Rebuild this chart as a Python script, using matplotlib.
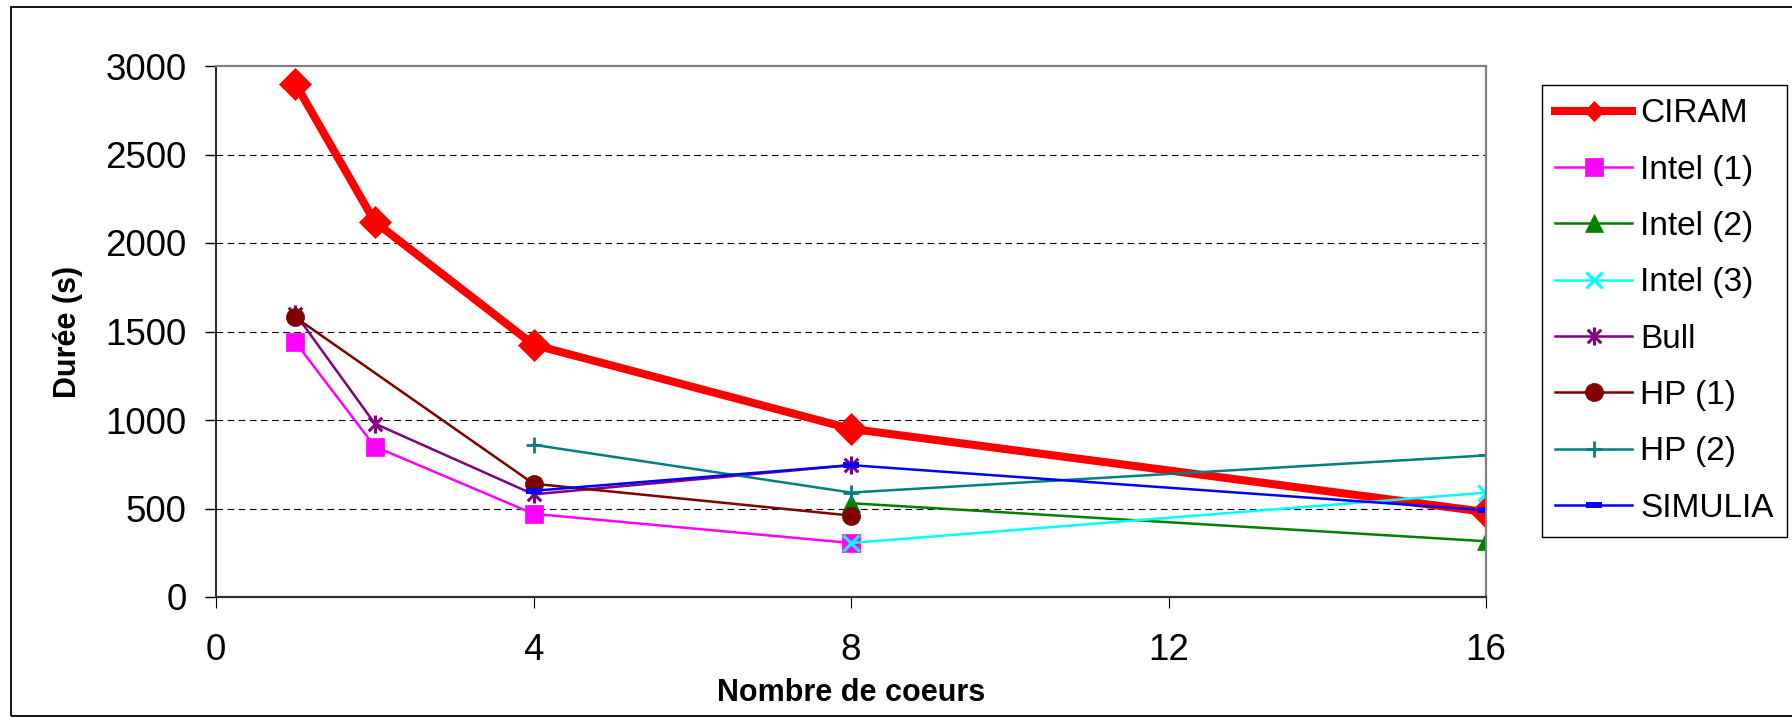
import matplotlib
matplotlib.use('Agg')
import numpy as np
from matplotlib import pyplot as plt
from matplotlib.path import Path
from matplotlib.patches import Rectangle

# Durée de calcul (s) selon le nombre de coeurs, par plateforme
labels = ['CIRAM', 'Intel (1)', 'Intel (2)', 'Intel (3)', 'Bull', 'HP (1)', 'HP (2)', 'SIMULIA']

cores_ciram = [1, 2, 4, 8, 16]
duree_ciram = [2900, 2120, 1425, 950, 480]

cores_intel1 = [1, 2, 4, 8]
duree_intel1 = [1440, 850, 470, 305]

cores_intel2 = [8, 16]
duree_intel2 = [530, 315]

cores_intel3 = [8, 16]
duree_intel3 = [305, 590]

cores_bull = [1, 2, 4, 8]
duree_bull = [1600, 980, 580, 745]

cores_hp1 = [1, 4, 8]
duree_hp1 = [1580, 640, 460]

cores_hp2 = [4, 8, 16]
duree_hp2 = [860, 590, 800]

cores_simulia = [4, 8, 16]
duree_simulia = [600, 745, 490]

x_ticks = [0, 4, 8, 12, 16]
y_ticks = [0, 500, 1000, 1500, 2000, 2500, 3000]


# asterisk marker: x with a vertical bar
star_path = Path([(0, -1), (0, 1), (-0.75, -0.75), (0.75, 0.75), (-0.75, 0.75), (0.75, -0.75)],
                 [Path.MOVETO, Path.LINETO] * 3)
# short flat bar marker
bar_marker = [(-1, -0.33), (1, -0.33), (1, 0.33), (-1, 0.33)]


def main():

    plt.rcParams['font.family'] = ['Liberation Sans', 'DejaVu Sans']

    fig = plt.figure(figsize=(17.92, 7.18), dpi=100)
    ax = fig.add_axes([216 / 1792, 1 - 597 / 718, (1486 - 216) / 1792, (597 - 66) / 718])

    # outer frame around the whole chart
    fig.patches.append(Rectangle((11 / 1792, 2 / 718), 1.0, 709 / 718, transform=fig.transFigure,
                                 fill=False, edgecolor='black', linewidth=1.3))

    thin = 1.8
    ax.plot(cores_ciram, duree_ciram, '-', color='#FF0000', linewidth=5.8, marker='D',
            markersize=16, markeredgewidth=0.5, label=labels[0])
    ax.plot(cores_intel1, duree_intel1, '-', color='#FF00FF', linewidth=thin, marker='s',
            markersize=12.5, markeredgewidth=0.5, label=labels[1])
    ax.plot(cores_intel2, duree_intel2, '-', color='#008000', linewidth=thin, marker='^',
            markersize=13, markeredgewidth=0.5, label=labels[2])
    ax.plot(cores_intel3, duree_intel3, '-', color='#00FFFF', linewidth=thin, marker='x',
            markersize=12, markeredgewidth=2.2, label=labels[3])
    ax.plot(cores_bull, duree_bull, '-', color='#800080', linewidth=thin, marker=star_path,
            markersize=13, markeredgewidth=2.2, markerfacecolor='none', label=labels[4])
    ax.plot(cores_hp1, duree_hp1, '-', color='#800000', linewidth=thin, marker='o',
            markersize=13, markeredgewidth=0.5, label=labels[5])
    ax.plot(cores_hp2, duree_hp2, '-', color='#008080', linewidth=thin, marker='+',
            markersize=12, markeredgewidth=2, label=labels[6])
    ax.plot(cores_simulia, duree_simulia, '-', color='#0000FF', linewidth=thin, marker=bar_marker,
            markersize=11, markeredgewidth=0, label=labels[7])

    ax.set_xlim(0, 16)
    ax.set_ylim(0, 3000)
    ax.set_xticks(x_ticks)
    ax.set_yticks(y_ticks)

    for y in y_ticks[1:-1]:
        ax.axhline(y, color='black', linewidth=0.8, dashes=(6, 4), zorder=0)

    ax.spines['left'].set_color('black')
    ax.spines['left'].set_linewidth(1.2)
    ax.spines['bottom'].set_color('#303030')
    ax.spines['bottom'].set_linewidth(1.6)
    for side in ['top', 'right']:
        ax.spines[side].set_color('#808080')
        ax.spines[side].set_linewidth(1.6)

    ax.tick_params(axis='y', direction='out', length=8, width=1, pad=13, labelsize=26.5)
    ax.tick_params(axis='x', direction='out', length=8, width=0.8, pad=18, labelsize=26.5)

    ax.set_xlabel('Nombre de coeurs', fontsize=22, fontweight='bold', labelpad=7)
    ax.set_ylabel('Durée (s)', fontsize=22, fontweight='bold', labelpad=16)

    leg = fig.legend(loc='upper left', bbox_to_anchor=(1542 / 1792, 1 - 85 / 718),
                     fontsize=24, frameon=True, fancybox=False, framealpha=1,
                     edgecolor='black', handlelength=2.3, handletextpad=0.25,
                     labelspacing=0.76, borderpad=0.4, borderaxespad=0)
    leg.get_frame().set_linewidth(1.0)
    leg.legend_handles[0].set_markersize(10)

    fig.savefig('out.png', dpi=100)


if __name__ == "__main__":
    main()
